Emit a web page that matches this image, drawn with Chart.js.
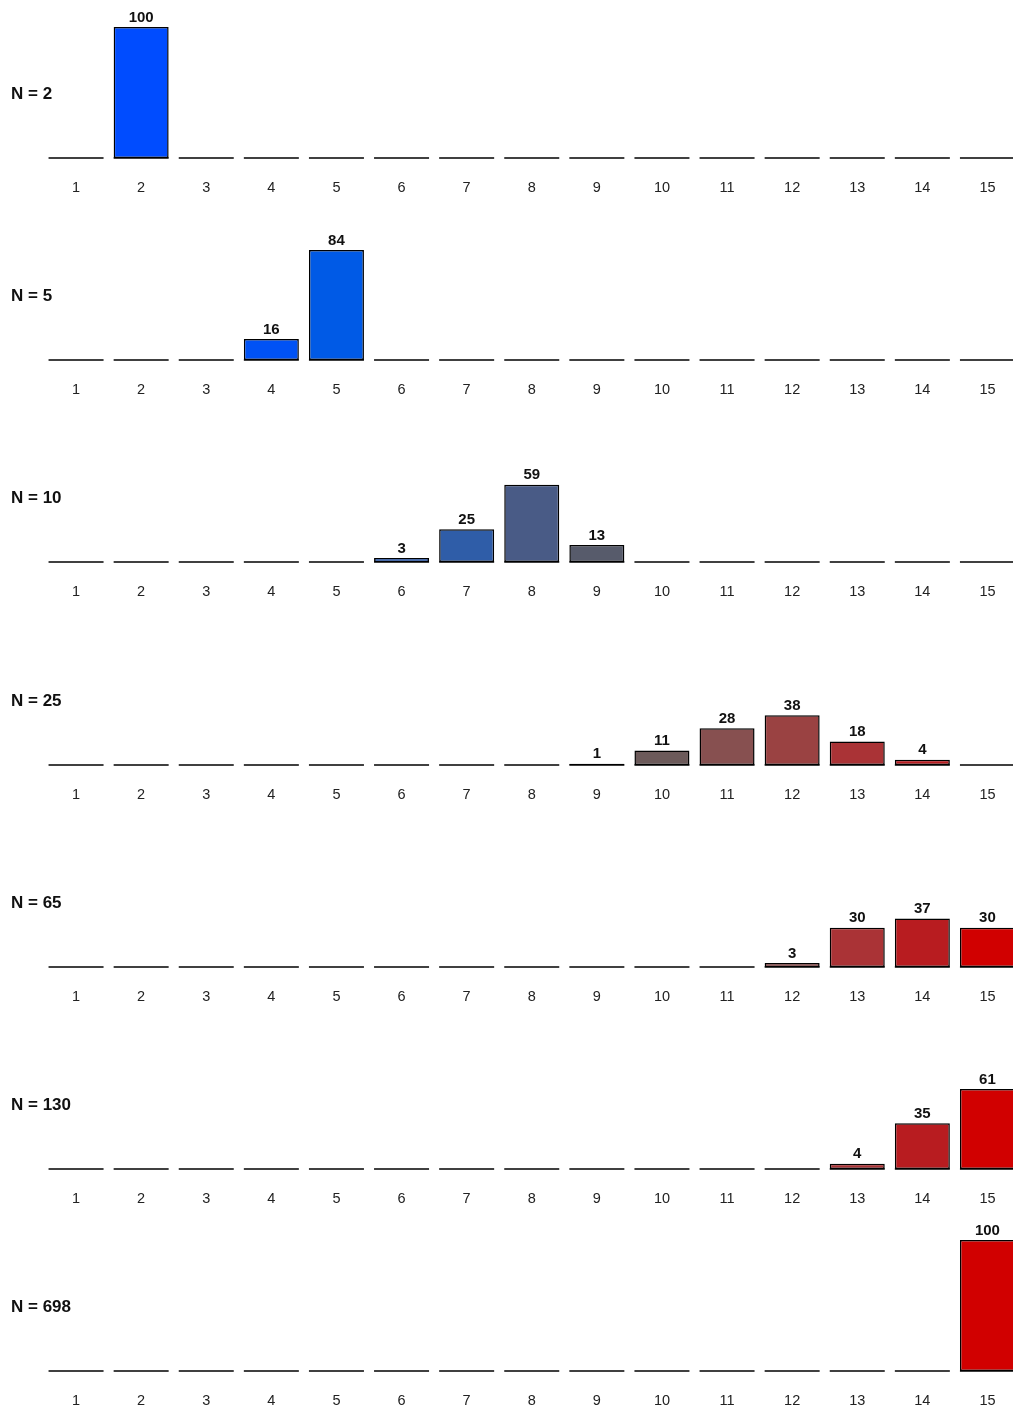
<!DOCTYPE html>
<html>
<head>
<meta charset="utf-8">
<script src="https://cdn.jsdelivr.net/npm/chart.js@4.4.1/dist/chart.umd.min.js"></script>
<style>
html,body{margin:0;padding:0;background:#fff;overflow:hidden;}
#wrap{position:relative;width:1013px;height:1410px;overflow:hidden;}
.panel{position:absolute;left:0;width:1020px;height:202px;}
</style>
</head>
<body>
<div id="wrap"></div>
<script>
// Distribuição por categoria (1..15) para cada tamanho de amostra N.

const CATEGORIES=['1','2','3','4','5','6','7','8','9','10','11','12','13','14','15'];
const PANEL_LABELS=['N = 2','N = 5','N = 10','N = 25','N = 65','N = 130','N = 698'];
const N2  =[0,100,0,0,0,0,0,0,0,0,0,0,0,0,0];
const N5  =[0,0,0,16,84,0,0,0,0,0,0,0,0,0,0];
const N10 =[0,0,0,0,0,3,25,59,13,0,0,0,0,0,0];
const N25 =[0,0,0,0,0,0,0,0,1,11,28,38,18,4,0];
const N65 =[0,0,0,0,0,0,0,0,0,0,0,3,30,37,30];
const N130=[0,0,0,0,0,0,0,0,0,0,0,0,4,35,61];
const N698=[0,0,0,0,0,0,0,0,0,0,0,0,0,0,100];
const SERIES=[N2,N5,N10,N25,N65,N130,N698];
// cor por categoria: azul -> cinza -> vermelho
const CAT_COLORS=['#0047FF','#004CFF','#004FFA','#0052F5','#005AE6','#1458D2','#2F5DA8','#495B86','#575B6B',
                  '#6C5A5A','#875050','#9A4242','#AA3336','#B81C20','#D10000'];

const FONT='"Liberation Sans", Arial, sans-serif';
const PANEL_STEP=202.17;

const baselinePlugin={
  id:'baseline',
  beforeDatasetsDraw(chart){
    const ctx=chart.ctx, meta=chart.getDatasetMeta(0), y=chart.scales.y.getPixelForValue(0);
    ctx.save();
    ctx.strokeStyle='#000';ctx.lineWidth=1.5;
    meta.data.forEach(bar=>{
      ctx.beginPath();ctx.moveTo(bar.x-bar.width/2,y);ctx.lineTo(bar.x+bar.width/2,y);ctx.stroke();
    });
    ctx.restore();
  }
};

const labelsPlugin={
  id:'valueLabels',
  afterDatasetsDraw(chart,args,opts){
    const ctx=chart.ctx, meta=chart.getDatasetMeta(0), data=chart.data.datasets[0].data;
    ctx.save();
    ctx.font='bold 15px '+FONT;ctx.fillStyle='#111';ctx.textAlign='center';ctx.textBaseline='middle';
    meta.data.forEach((bar,i)=>{ if(data[i]>0) ctx.fillText(String(data[i]),bar.x,bar.y-9.5); });
    // rótulo do painel
    ctx.font='bold 17px '+FONT;ctx.textAlign='left';
    ctx.fillText(opts.text,11,chart.chartArea.bottom-64);
    ctx.restore();
  }
};

const wrap=document.getElementById('wrap');
SERIES.forEach((vals,p)=>{
  const cv=document.createElement('canvas');
  cv.className='panel';cv.width=1020;cv.height=202;
  cv.style.top=(p*PANEL_STEP)+'px';
  wrap.appendChild(cv);
  new Chart(cv,{
    type:'bar',
    data:{labels:CATEGORIES,datasets:[{data:vals,backgroundColor:CAT_COLORS,borderColor:'#000',borderWidth:1.5,borderSkipped:false,
      categoryPercentage:1,barPercentage:0.845}]},
    options:{
      responsive:false,animation:false,devicePixelRatio:1,
      layout:{padding:{left:43.5,right:0,top:27,bottom:0}},
      plugins:{legend:{display:false},tooltip:{enabled:false},valueLabels:{text:PANEL_LABELS[p]}},
      scales:{
        x:{grid:{display:false,drawTicks:false},border:{display:false},
           ticks:{color:'#222',font:{family:FONT,size:14.5},padding:21.5,maxRotation:0,autoSkip:false},
           afterFit(s){s.height=44;}},
        y:{display:false,min:0,max:100}
      }
    },
    plugins:[baselinePlugin,labelsPlugin]
  });
});
</script>
</body>
</html>
